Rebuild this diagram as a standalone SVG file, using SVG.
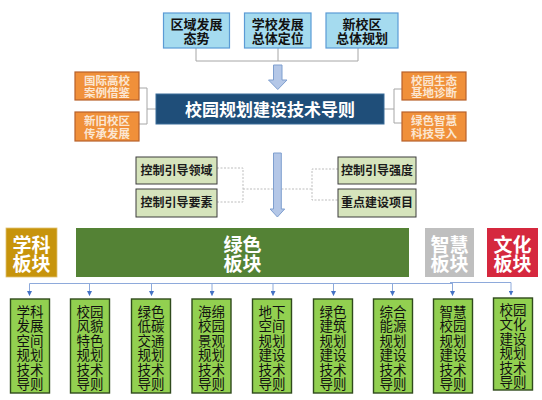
<svg xmlns="http://www.w3.org/2000/svg" width="542" height="400" viewBox="0 0 542 400">
<defs>
<style>
text{font-family:"Liberation Sans","Noto Sans CJK SC",sans-serif;text-anchor:middle}
.top rect{fill:#a5dbef;stroke:#5b9bd5;stroke-width:1.2}
.top text{font-size:13px;font-weight:bold;fill:#111}
.org rect{fill:#f0903a;stroke:#b8612a;stroke-width:1.2}
.org text{font-size:11.5px;font-weight:bold;fill:#fbe6d2}
.ctl rect{fill:#d6e4bc;stroke:#3d3d3d;stroke-width:1}
.ctl text{font-size:12px;font-weight:bold;fill:#1a1a1a}
.cat text{font-size:19px;font-weight:bold;fill:#fff}
.sub rect{fill:#92d050;stroke:#2f4a1c;stroke-width:1.4}
.sub text{font-size:13.5px;fill:#111}
.ln{fill:none;stroke:#a6a6a6;stroke-width:1}
.dot{fill:none;stroke:#bdbdbd;stroke-width:1;stroke-dasharray:2 1.5}
.blue{fill:none;stroke:#8eaadb;stroke-width:1}
.drop{fill:none;stroke:#8eaadb;stroke-width:1;marker-end:url(#ah)}
.barrow{fill:#b4c7e7;stroke:#7f9fcf;stroke-width:1}
</style>
<marker id="ah" markerWidth="5" markerHeight="5" refX="4.5" refY="2.5" orient="auto" markerUnits="userSpaceOnUse" viewBox="0 0 5 5">
<path d="M0,0 L5,2.5 L0,5 Z" fill="#4472c4"/>
</marker>
</defs>
<rect width="542" height="400" fill="#fff"/>

<g id="connectors">
<path class="ln" d="M196,48 V61 M278,48 V61 M358,48 V61 M196,61 H358"/>
<path class="barrow" d="M273.5,65 H282 V80 H287 L277.75,89.5 L268.5,80 H273.5 Z"/>
<path class="ln" d="M139,88 H147 V124 H139 M147,109 H156"/>
<path class="ln" d="M384,109 H394 M402,89 H394 V123 H402"/>
<path class="dot" d="M217,168 H243 V202 H217 M243,189 H312 M338,169 H312 V200 H338"/>
<path class="barrow" d="M273.5,153 H281.3 V209 H284.7 L277.4,217 L270.1,209 H273.5 Z"/>
<path class="blue" d="M29.5,283.5 H453 M450,282.5 H511"/>
<path class="drop" d="M29.5,283.5 V295.5"/>
<path class="drop" d="M89.5,283.5 V295.5"/>
<path class="drop" d="M151.5,283.5 V295.5"/>
<path class="drop" d="M212,283.5 V295.5"/>
<path class="drop" d="M273,283.5 V295.5"/>
<path class="drop" d="M333.5,283.5 V295.5"/>
<path class="drop" d="M392.5,283.5 V295.5"/>
<path class="drop" d="M452.5,282.5 V295.5"/>
<path class="drop" d="M511,282.5 V295"/>
</g>

<g id="top1" class="top"><rect x="163.5" y="13" width="66" height="35"/><text x="196.5" y="28.5">区域发展</text><text x="196.5" y="43">态势</text></g>
<g id="top2" class="top"><rect x="244.5" y="13" width="66.5" height="35"/><text x="277.75" y="28.5">学校发展</text><text x="277.75" y="43">总体定位</text></g>
<g id="top3" class="top"><rect x="326" y="13" width="72" height="35"/><text x="362" y="28.5">新校区</text><text x="362" y="43">总体规划</text></g>

<g id="org1" class="org"><rect x="75" y="72" width="64" height="28"/><text x="107" y="85">国际高校</text><text x="107" y="97">案例借鉴</text></g>
<g id="org2" class="org"><rect x="75" y="112" width="64" height="29"/><text x="107" y="125">新旧校区</text><text x="107" y="137.5">传承发展</text></g>
<g id="org3" class="org"><rect x="402" y="72" width="64" height="28"/><text x="434" y="85">校园生态</text><text x="434" y="97">基地诊断</text></g>
<g id="org4" class="org"><rect x="402" y="112" width="64" height="29"/><text x="434" y="125">绿色智慧</text><text x="434" y="137.5">科技导入</text></g>

<g id="main"><rect x="156" y="94" width="228" height="30" fill="#1f4e79" stroke="#3a6c9a" stroke-width="1"/><text x="270" y="115.5" font-size="17" font-weight="bold" fill="#fff">校园规划建设技术导则</text></g>

<g id="ctl1" class="ctl"><rect x="136" y="157" width="81" height="27"/><text x="176.5" y="174.5">控制引导领域</text></g>
<g id="ctl2" class="ctl"><rect x="136" y="189" width="81" height="28"/><text x="176.5" y="207">控制引导要素</text></g>
<g id="ctl3" class="ctl"><rect x="338" y="157" width="78" height="27"/><text x="377" y="174.5">控制引导强度</text></g>
<g id="ctl4" class="ctl"><rect x="338" y="189" width="78" height="28"/><text x="377" y="207">重点建设项目</text></g>

<g id="cat1" class="cat"><rect x="6" y="228" width="51" height="49" fill="#c7940c" stroke="#e0c070" stroke-width="0.8"/><text x="31.5" y="251.5">学科</text><text x="31.5" y="271">板块</text></g>
<g id="cat2" class="cat"><rect x="76" y="228" width="333" height="49" fill="#548235"/><text x="242.5" y="251.5">绿色</text><text x="242.5" y="271">板块</text></g>
<g id="cat3" class="cat"><rect x="425" y="228" width="49" height="49" fill="#bfbfbf"/><text x="449.5" y="251.5">智慧</text><text x="449.5" y="271">板块</text></g>
<g id="cat4" class="cat"><rect x="487" y="228" width="51" height="49" fill="#d5283e"/><text x="512.5" y="251.5">文化</text><text x="512.5" y="271">板块</text></g>

<g id="sub1" class="sub"><rect x="10.5" y="299" width="39" height="94"/>
<text x="30" y="316.5">学科</text><text x="30" y="331">发展</text><text x="30" y="345.5">空间</text><text x="30" y="360">规划</text><text x="30" y="374.5">技术</text><text x="30" y="389">导则</text></g>
<g id="sub2" class="sub"><rect x="70.5" y="299" width="39" height="94"/>
<text x="90" y="316.5">校园</text><text x="90" y="331">风貌</text><text x="90" y="345.5">特色</text><text x="90" y="360">规划</text><text x="90" y="374.5">技术</text><text x="90" y="389">导则</text></g>
<g id="sub3" class="sub"><rect x="131.5" y="299" width="39" height="94"/>
<text x="151" y="316.5">绿色</text><text x="151" y="331">低碳</text><text x="151" y="345.5">交通</text><text x="151" y="360">规划</text><text x="151" y="374.5">技术</text><text x="151" y="389">导则</text></g>
<g id="sub4" class="sub"><rect x="192" y="299" width="39" height="94"/>
<text x="211.5" y="316.5">海绵</text><text x="211.5" y="331">校园</text><text x="211.5" y="345.5">景观</text><text x="211.5" y="360">规划</text><text x="211.5" y="374.5">技术</text><text x="211.5" y="389">导则</text></g>
<g id="sub5" class="sub"><rect x="252.5" y="299" width="39" height="94"/>
<text x="272" y="316.5">地下</text><text x="272" y="331">空间</text><text x="272" y="345.5">规划</text><text x="272" y="360">建设</text><text x="272" y="374.5">技术</text><text x="272" y="389">导则</text></g>
<g id="sub6" class="sub"><rect x="313.5" y="299" width="39" height="94"/>
<text x="333" y="316.5">绿色</text><text x="333" y="331">建筑</text><text x="333" y="345.5">规划</text><text x="333" y="360">建设</text><text x="333" y="374.5">技术</text><text x="333" y="389">导则</text></g>
<g id="sub7" class="sub"><rect x="373.5" y="299" width="39" height="94"/>
<text x="393" y="316.5">综合</text><text x="393" y="331">能源</text><text x="393" y="345.5">规划</text><text x="393" y="360">建设</text><text x="393" y="374.5">技术</text><text x="393" y="389">导则</text></g>
<g id="sub8" class="sub"><rect x="433.5" y="299" width="39" height="94"/>
<text x="453" y="316.5">智慧</text><text x="453" y="331">校园</text><text x="453" y="345.5">规划</text><text x="453" y="360">建设</text><text x="453" y="374.5">技术</text><text x="453" y="389">导则</text></g>
<g id="sub9" class="sub"><rect x="493.5" y="298" width="39" height="92"/>
<text x="513" y="314.5">校园</text><text x="513" y="329">文化</text><text x="513" y="343.5">建设</text><text x="513" y="358">规划</text><text x="513" y="372.5">技术</text><text x="513" y="387">导则</text></g>
</svg>
